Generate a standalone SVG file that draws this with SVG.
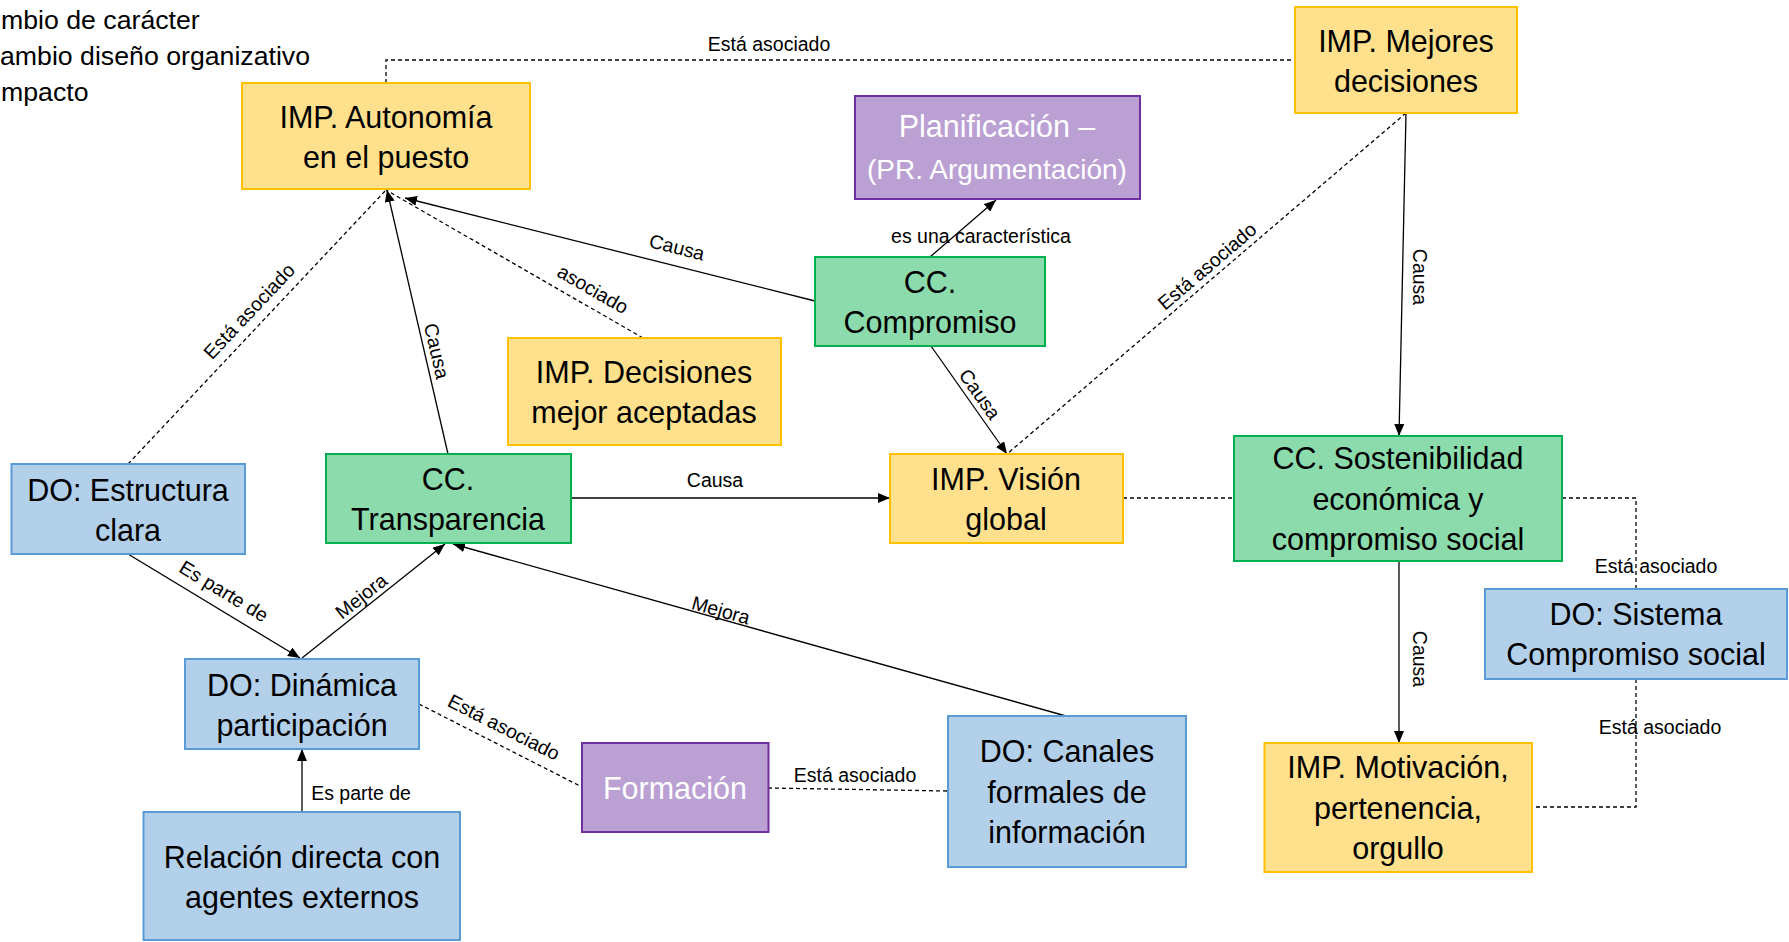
<svg xmlns="http://www.w3.org/2000/svg" width="1789" height="942" viewBox="0 0 1789 942">
  <defs>
    <marker id="arrow" markerUnits="userSpaceOnUse" markerWidth="13" markerHeight="10" refX="12" refY="5" orient="auto">
      <path d="M0,0 L12,5 L0,10 Z" fill="#000"/>
    </marker>
    <style>
      .box { stroke-width: 2; }
      .imp { fill: #FFE08C; stroke: #FFC000; }
      .cc { fill: #8CDBAC; stroke: #00B050; }
      .do { fill: #B3D0EB; stroke: #5B9BD5; }
      .pr { fill: #BBA0D4; stroke: #7030A0; }
      .nt { font-family: "Liberation Sans", Arial, sans-serif; font-size: 30.5px; fill: #000; text-anchor: middle; }
      .wt { fill: #FFFFFF; }
      .lbl { font-family: "Liberation Sans", Arial, sans-serif; font-size: 19.5px; fill: #000; text-anchor: middle; }
      .legend { font-family: "Liberation Sans", Arial, sans-serif; font-size: 26.7px; fill: #000; }
      .ln { fill: none; stroke: #000; stroke-width: 1.3; }
      .dash { stroke-dasharray: 4 3; }
      .arr { marker-end: url(#arrow); }
    </style>
  </defs>
  <rect width="1789" height="942" fill="#FFFFFF"/>

  <!-- legend text, running off the left edge -->
  <g id="legend">
    <text class="legend" x="1" y="29">mbio de carácter</text>
    <text class="legend" x="0" y="65">ambio diseño organizativo</text>
    <text class="legend" x="1" y="101">mpacto</text>
  </g>

  <!-- connectors -->
  <g id="connectors">
    <path class="ln dash" d="M386,83 V60 H1295"/>
    <path class="ln dash" d="M128,464 L386,190"/>
    <path class="ln arr" d="M448,454 L387,190"/>
    <path class="ln arr" d="M815,301 L405,198"/>
    <path class="ln dash" d="M643,338 L386,190"/>
    <path class="ln arr" d="M930,257 L996,200"/>
    <path class="ln arr" d="M931,346 L1007,454"/>
    <path class="ln dash" d="M1406,113 L1007,454"/>
    <path class="ln arr" d="M1406,113 L1399,436"/>
    <path class="ln arr" d="M571,498 L890,498"/>
    <path class="ln dash" d="M1123,498 H1234"/>
    <path class="ln arr" d="M1399,561 V743"/>
    <path class="ln dash" d="M1562,498 H1636 V589"/>
    <path class="ln dash" d="M1636,679 V807 H1532"/>
    <path class="ln arr" d="M128,554 L300,658"/>
    <path class="ln arr" d="M302,658 L445,544"/>
    <path class="ln arr" d="M1066,716 L453,544"/>
    <path class="ln dash" d="M419,704 L582,787"/>
    <path class="ln dash" d="M768,788 L948,791"/>
    <path class="ln arr" d="M302,812 V749"/>

    <!-- connector labels -->
    <text class="lbl" x="769" y="51">Está asociado</text>
    <text class="lbl" transform="translate(249,311) rotate(-46.7)" y="7">Está asociado</text>
    <text class="lbl" transform="translate(437,351) rotate(77)" y="7">Causa</text>
    <text class="lbl" transform="translate(677,247) rotate(14.1)" y="7">Causa</text>
    <text class="lbl" transform="translate(593,289) rotate(30)" y="7">asociado</text>
    <text class="lbl" x="981" y="243">es una característica</text>
    <text class="lbl" transform="translate(980,394) rotate(54.6)" y="7">Causa</text>
    <text class="lbl" transform="translate(1207,266) rotate(-40.5)" y="7">Está asociado</text>
    <text class="lbl" transform="translate(1420,277) rotate(90)" y="7">Causa</text>
    <text class="lbl" x="715" y="487">Causa</text>
    <text class="lbl" transform="translate(1420,659) rotate(90)" y="7">Causa</text>
    <text class="lbl" x="1656" y="573">Está asociado</text>
    <text class="lbl" x="1660" y="734">Está asociado</text>
    <text class="lbl" transform="translate(224,591) rotate(31.2)" y="7">Es parte de</text>
    <text class="lbl" transform="translate(361,596) rotate(-38.3)" y="7">Mejora</text>
    <text class="lbl" transform="translate(721,610) rotate(15.7)" y="7">Mejora</text>
    <text class="lbl" transform="translate(504,727) rotate(27)" y="7">Está asociado</text>
    <text class="lbl" x="855" y="782">Está asociado</text>
    <text class="lbl" x="361" y="800">Es parte de</text>
  </g>

  <g id="autonomia">
    <rect class="box imp" x="242" y="83" width="288" height="106"/>
    <text class="nt" x="386" y="128">IMP. Autonomía</text>
    <text class="nt" x="386" y="168">en el puesto</text>
  </g>

  <g id="mejores-decisiones">
    <rect class="box imp" x="1295" y="7" width="222" height="106"/>
    <text class="nt" x="1406" y="52">IMP. Mejores</text>
    <text class="nt" x="1406" y="92">decisiones</text>
  </g>

  <g id="planificacion">
    <rect class="box pr" x="855" y="96" width="285" height="103"/>
    <text class="nt wt" x="997" y="137">Planificación –</text>
    <text class="nt wt" x="997" y="179" style="font-size:28px">(PR. Argumentación)</text>
  </g>

  <g id="compromiso">
    <rect class="box cc" x="815" y="257" width="230" height="89"/>
    <text class="nt" x="930" y="293">CC.</text>
    <text class="nt" x="930" y="333">Compromiso</text>
  </g>

  <g id="decisiones-aceptadas">
    <rect class="box imp" x="508" y="338" width="273" height="107"/>
    <text class="nt" x="644" y="383">IMP. Decisiones</text>
    <text class="nt" x="644" y="423">mejor aceptadas</text>
  </g>

  <g id="estructura">
    <rect class="box do" x="11.5" y="464" width="233.5" height="90"/>
    <text class="nt" x="128" y="501">DO: Estructura</text>
    <text class="nt" x="128" y="541">clara</text>
  </g>

  <g id="transparencia">
    <rect class="box cc" x="326" y="454" width="245" height="89"/>
    <text class="nt" x="448" y="490">CC.</text>
    <text class="nt" x="448" y="530">Transparencia</text>
  </g>

  <g id="vision-global">
    <rect class="box imp" x="890" y="454" width="233" height="89"/>
    <text class="nt" x="1006" y="490">IMP. Visión</text>
    <text class="nt" x="1006" y="530">global</text>
  </g>

  <g id="sostenibilidad">
    <rect class="box cc" x="1234" y="436" width="328" height="125"/>
    <text class="nt" x="1398" y="469">CC. Sostenibilidad</text>
    <text class="nt" x="1398" y="509.5">económica y</text>
    <text class="nt" x="1398" y="550">compromiso social</text>
  </g>

  <g id="sistema-compromiso">
    <rect class="box do" x="1485" y="589" width="302" height="90"/>
    <text class="nt" x="1636" y="625">DO: Sistema</text>
    <text class="nt" x="1636" y="665">Compromiso social</text>
  </g>

  <g id="motivacion">
    <rect class="box imp" x="1264.5" y="743" width="267.5" height="129"/>
    <text class="nt" x="1398" y="778">IMP. Motivación,</text>
    <text class="nt" x="1398" y="818.5">pertenencia,</text>
    <text class="nt" x="1398" y="859">orgullo</text>
  </g>

  <g id="dinamica">
    <rect class="box do" x="185" y="659" width="234" height="90"/>
    <text class="nt" x="302" y="696">DO: Dinámica</text>
    <text class="nt" x="302" y="736">participación</text>
  </g>

  <g id="formacion">
    <rect class="box pr" x="582" y="743" width="186.5" height="89"/>
    <text class="nt wt" x="675" y="798.5">Formación</text>
  </g>

  <g id="canales">
    <rect class="box do" x="948" y="716" width="238" height="151"/>
    <text class="nt" x="1067" y="762">DO: Canales</text>
    <text class="nt" x="1067" y="802.5">formales de</text>
    <text class="nt" x="1067" y="843">información</text>
  </g>

  <g id="relacion-externa">
    <rect class="box do" x="143.5" y="812" width="316.5" height="128"/>
    <text class="nt" x="302" y="868">Relación directa con</text>
    <text class="nt" x="302" y="908">agentes externos</text>
  </g>
</svg>
